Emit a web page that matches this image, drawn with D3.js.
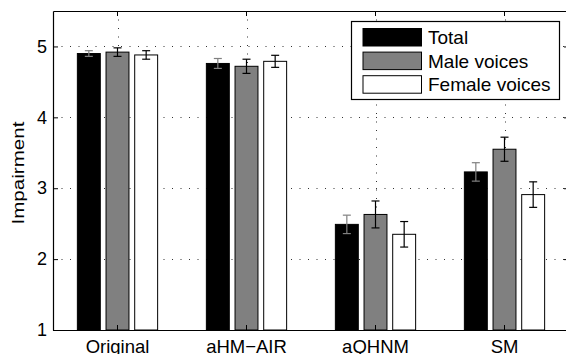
<!DOCTYPE html>
<html>
<head>
<meta charset="utf-8">
<script src="https://cdn.jsdelivr.net/npm/d3@7"></script>
<style>
  body { margin: 0; background: #fff; }
  svg { display: block; font-family: "Liberation Sans", Arial, sans-serif; }
</style>
</head>
<body>
<div id="chart"></div>
<script>
const categories = ["Original", "aHM\u2212AIR", "aQHNM", "SM"];
const series = ["Total", "Male voices", "Female voices"];
const totalValues = [4.90, 4.76, 2.49, 3.23];
const maleValues = [4.92, 4.72, 2.63, 3.55];
const femaleValues = [4.88, 4.79, 2.35, 2.91];
const totalErr = [0.04, 0.07, 0.13, 0.13];
const maleErr = [0.06, 0.10, 0.19, 0.17];
const femaleErr = [0.06, 0.085, 0.18, 0.18];
const yTicks = [1, 2, 3, 4, 5];

const width = 566, height = 354;
const padding = [11, -3, 24, 53]; // top, right, bottom, left
const fills = ["#000000", "#808080", "#ffffff"];
const errColors = ["#808080", "#000000", "#000000"];

const values = [totalValues, maleValues, femaleValues];
const errs = [totalErr, maleErr, femaleErr];
const data = [];
categories.forEach((c, i) => {
  series.forEach((s, j) => {
    data.push({ cat: c, series: s, idx: j, value: values[j][i], err: errs[j][i] });
  });
});

const svg = d3.select("#chart").append("svg")
  .attr("width", width)
  .attr("height", height);

const x0 = padding[3], x1 = width - padding[1];
const y0 = height - padding[2], y1 = padding[0];

const xScale = d3.scaleBand()
  .domain(categories)
  .range([x0, x1]);
const groupW = xScale.bandwidth() * 2 / 3;
const xInner = d3.scaleBand()
  .domain(series)
  .range([-groupW / 2, groupW / 2])
  .paddingInner(0.2)
  .paddingOuter(0.1);
const yScale = d3.scaleLinear()
  .domain([1, 5.5])
  .range([y0, y1]);

const cx = c => xScale(c) + xScale.bandwidth() / 2;

// grid
const grid = svg.append("g").attr("stroke", "#333").attr("stroke-width", 1)
  .attr("stroke-dasharray", "1,7.5");
grid.selectAll(".gy").data(yTicks.slice(1)).enter().append("line")
  .attr("x1", x0).attr("x2", x1)
  .attr("y1", d => Math.round(yScale(d)) + 0.5)
  .attr("y2", d => Math.round(yScale(d)) + 0.5);
grid.selectAll(".gx").data(categories).enter().append("line")
  .attr("x1", d => Math.round(cx(d)) + 0.5).attr("x2", d => Math.round(cx(d)) + 0.5)
  .attr("y1", y1).attr("y2", y0);

// bars
svg.append("g").selectAll("rect")
  .data(data)
  .enter()
  .append("rect")
  .attr("x", d => cx(d.cat) + xInner(d.series))
  .attr("width", xInner.bandwidth())
  .attr("y", d => yScale(d.value))
  .attr("height", d => y0 - yScale(d.value))
  .attr("fill", d => fills[d.idx])
  .attr("stroke", "#000")
  .attr("stroke-width", 1);

// error bars
const eb = svg.append("g").selectAll("g")
  .data(data)
  .enter()
  .append("g")
  .attr("stroke", d => errColors[d.idx])
  .attr("stroke-width", 1.2);
const ex = d => cx(d.cat) + xInner(d.series) + xInner.bandwidth() / 2;
eb.append("line")
  .attr("x1", ex).attr("x2", ex)
  .attr("y1", d => yScale(d.value + d.err))
  .attr("y2", d => yScale(d.value - d.err));
eb.append("line")
  .attr("x1", d => ex(d) - 4).attr("x2", d => ex(d) + 4)
  .attr("y1", d => yScale(d.value + d.err))
  .attr("y2", d => yScale(d.value + d.err));
eb.append("line")
  .attr("x1", d => ex(d) - 4).attr("x2", d => ex(d) + 4)
  .attr("y1", d => yScale(d.value - d.err))
  .attr("y2", d => yScale(d.value - d.err));

// axes
const yAxis = d3.axisLeft(yScale).tickValues(yTicks).tickFormat(d3.format("d"))
  .tickSizeInner(-5).tickSizeOuter(0).tickPadding(6);
const gy = svg.append("g").attr("transform", `translate(${x0}, 0)`).call(yAxis);
gy.selectAll("text").attr("font-size", 18).attr("fill", "#000")
  .attr("font-family", "Liberation Sans, Arial, sans-serif");
const yAxisR = d3.axisRight(yScale).tickValues(yTicks).tickSizeInner(-5).tickSizeOuter(0).tickFormat("");
svg.append("g").attr("transform", `translate(${x1}, 0)`).call(yAxisR);

const xAxis = d3.axisBottom(xScale).tickSizeInner(-5).tickSizeOuter(0).tickPadding(10);
const gx = svg.append("g").attr("transform", `translate(0, ${y0})`).call(xAxis);
gx.selectAll("text").attr("font-size", 18.5).attr("fill", "#000")
  .attr("font-family", "Liberation Sans, Arial, sans-serif");
const xAxisT = d3.axisTop(xScale).tickSizeInner(-5).tickSizeOuter(0).tickFormat("");
svg.append("g").attr("transform", `translate(0, ${y1})`).call(xAxisT);

svg.selectAll(".domain").attr("stroke", "#000").attr("stroke-width", 1.2);
svg.selectAll(".tick line").attr("stroke", "#000");

// y label
svg.append("text")
  .attr("transform", `translate(24, ${173}) rotate(-90)`)
  .attr("text-anchor", "middle")
  .attr("font-size", 16)
  .attr("textLength", 103)
  .attr("lengthAdjust", "spacingAndGlyphs")
  .text("Impairment");

// legend
const legend = svg.append("g");
legend.append("rect")
  .attr("x", 351.5).attr("y", 21.5).attr("width", 208).attr("height", 78)
  .attr("fill", "#fff").attr("stroke", "#000").attr("stroke-width", 1.2);
const rows = legend.selectAll("g.row").data(series).enter().append("g")
  .attr("transform", (d, i) => `translate(0, ${28.5 + i * 23.6})`);
rows.append("rect")
  .attr("x", 363).attr("y", 0).attr("width", 58.5).attr("height", 17.5)
  .attr("fill", (d, i) => fills[i]).attr("stroke", "#000").attr("stroke-width", 1);
rows.append("text")
  .attr("x", 428).attr("y", 15.5)
  .attr("font-size", 19)
  .text(d => d);
</script>
</body>
</html>
